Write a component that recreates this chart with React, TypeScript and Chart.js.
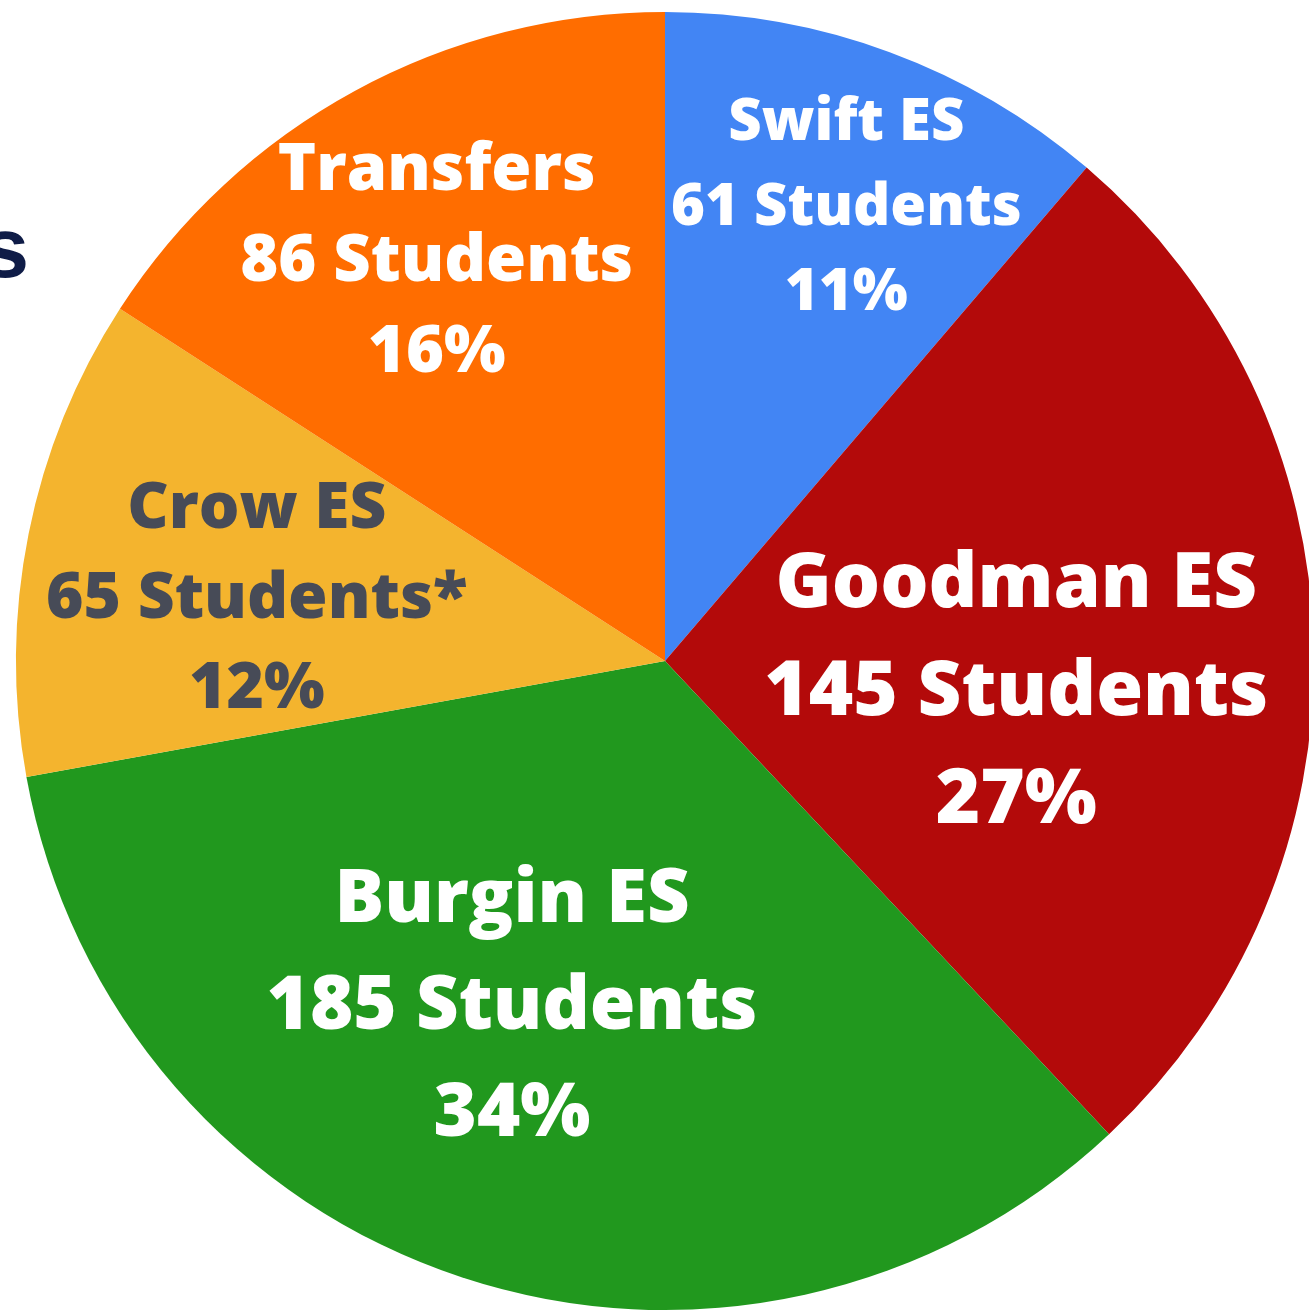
import React, { useEffect, useRef } from "react";
import { Chart, registerables } from "chart.js";

Chart.register(...registerables);

// ---- data ----
const schools = ["Swift ES", "Goodman ES", "Burgin ES", "Crow ES", "Transfers"];
const students = [61, 145, 185, 65, 86];
const footnoteMarks = ["", "", "", "*", ""];
const sliceColors = ["#4285F4", "#B30A0A", "#21981E", "#F4B42E", "#FF6D00"];
const labelColors = ["#FFFFFF", "#FFFFFF", "#FFFFFF", "#474B57", "#FFFFFF"];

// ---- label layout (style only) ----
const labelRadiusFrac = [0.757, 0.543, 0.578, 0.637, 0.713];
const labelAngleShiftDeg = [1.4, 6.0, 5.8, -2.2, -1.0];
const labelFontPx = [58, 76, 74, 64, 65];
const labelLineGap = [85, 108, 107, 90, 91];
const labelBaselineNudge = 4;

const FONT = '"Open Sans", "Noto Sans", sans-serif';

const sliceLabelPlugin = {
  id: "sliceLabels",
  afterDatasetsDraw(chart: any) {
    const ctx = chart.ctx as CanvasRenderingContext2D;
    const meta = chart.getDatasetMeta(0);
    const data = chart.data.datasets[0].data as number[];
    const total = data.reduce((a, b) => a + b, 0);
    meta.data.forEach((arc: any, i: number) => {
      const p = arc.getProps(["x", "y", "startAngle", "endAngle", "outerRadius"], true);
      const a = (p.startAngle + p.endAngle) / 2 + (labelAngleShiftDeg[i] * Math.PI) / 180;
      const r = p.outerRadius * labelRadiusFrac[i];
      const cx = p.x + Math.cos(a) * r;
      const cy = p.y + Math.sin(a) * r + labelBaselineNudge;
      const pct = Math.round((data[i] / total) * 100);
      const lines = [
        chart.data.labels[i] as string,
        `${data[i]} Students${footnoteMarks[i]}`,
        `${pct}%`,
      ];
      ctx.save();
      ctx.font = `800 ${labelFontPx[i]}px ${FONT}`;
      ctx.fillStyle = labelColors[i];
      ctx.textAlign = "center";
      ctx.textBaseline = "middle";
      lines.forEach((t, k) => {
        ctx.fillText(t, cx, cy + (k - 1) * labelLineGap[i]);
      });
      ctx.restore();
    });
  },
};

export default function App() {
  const ref = useRef<HTMLCanvasElement | null>(null);

  useEffect(() => {
    if (!ref.current) return;
    const chart = new Chart(ref.current, {
      type: "pie",
      data: {
        labels: schools,
        datasets: [
          {
            data: students,
            backgroundColor: sliceColors,
            borderWidth: 0,
          },
        ],
      },
      options: {
        responsive: false,
        animation: false,
        devicePixelRatio: 1,
        layout: { padding: { left: 16, right: 16, top: 12, bottom: 12 } },
        plugins: {
          legend: { display: false },
          tooltip: { enabled: false },
          title: { display: false },
        },
      },
      plugins: [sliceLabelPlugin],
    });
    return () => chart.destroy();
  }, []);

  return (
    <div
      style={{
        position: "absolute",
        left: 0,
        top: 0,
        width: 1309,
        height: 1316,
        overflow: "hidden",
        background: "#FFFFFF",
      }}
    >
      <canvas
        ref={ref}
        width={1330}
        height={1322}
        style={{ position: "absolute", left: 0, top: 0, width: 1330, height: 1322 }}
      />
      <div
        style={{
          position: "absolute",
          left: 0,
          top: 197,
          width: 29,
          overflow: "hidden",
          display: "flex",
          justifyContent: "flex-end",
          whiteSpace: "nowrap",
          fontFamily: '"Liberation Sans", Arial, sans-serif',
          fontWeight: 700,
          fontSize: 86,
          lineHeight: "100px",
          color: "#0F1C47",
        }}
      >
        <span>Enrollment by Schools</span>
      </div>
    </div>
  );
}
